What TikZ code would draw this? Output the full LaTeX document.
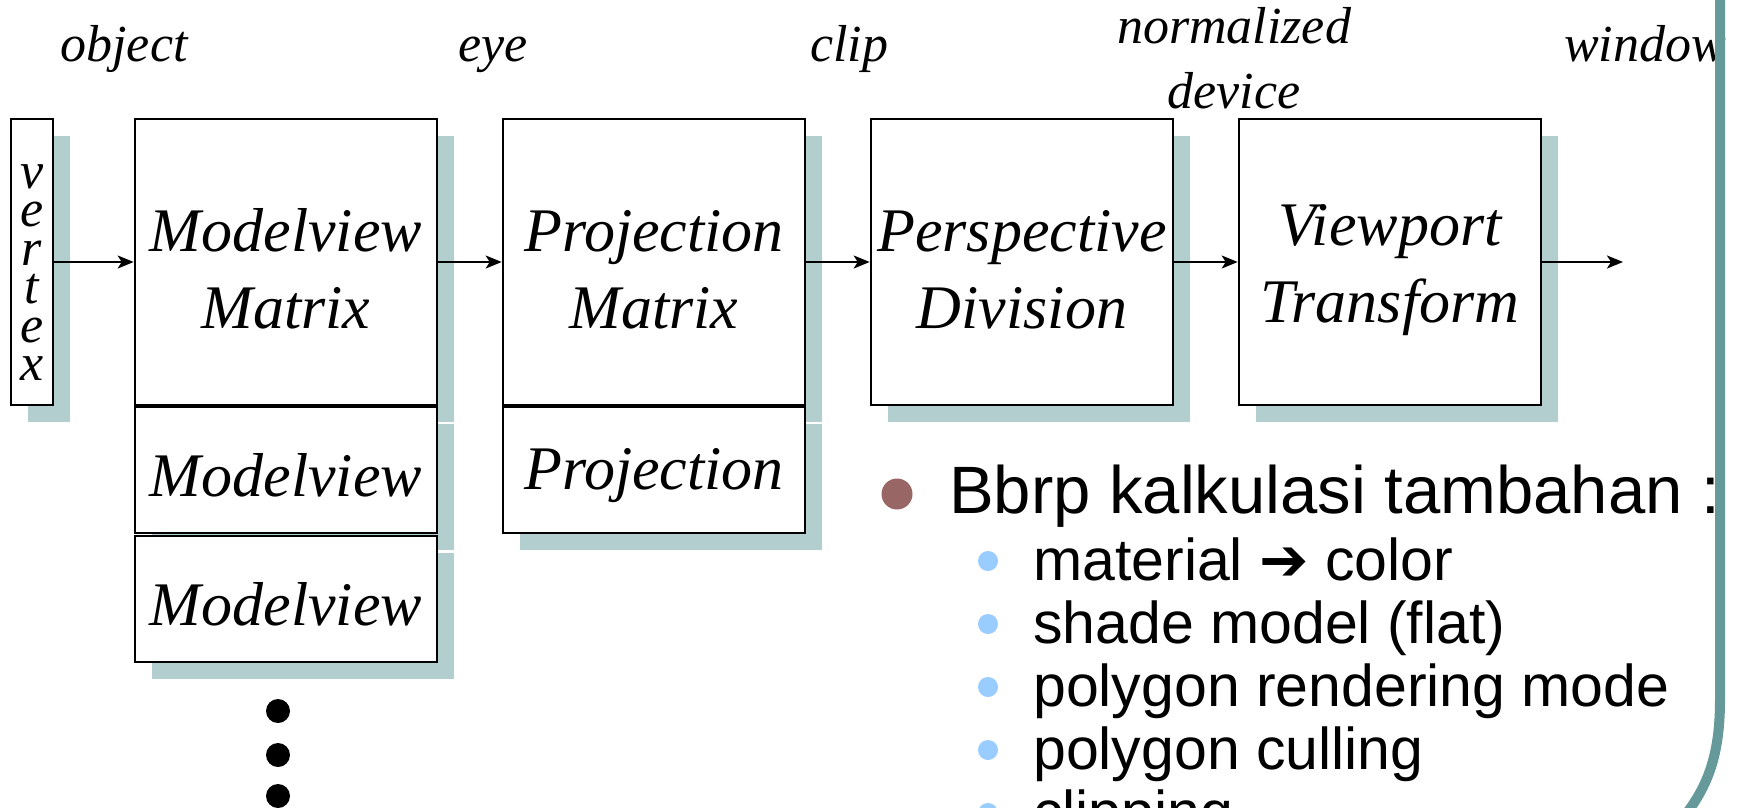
\documentclass[tikz,border=0pt]{standalone}
\usepackage{fontspec}
\setmainfont{Liberation Serif}
\setsansfont{Liberation Sans}
\newfontfamily\symfont{DejaVu Sans}
\usetikzlibrary{arrows.meta,shadows}
\definecolor{frameteal}{RGB}{102,153,153}
\definecolor{shadeteal}{RGB}{178,206,206}
\definecolor{dotbrown}{RGB}{153,102,102}
\definecolor{dotblue}{RGB}{153,204,255}

\begin{document}
\begin{tikzpicture}[x=1pt, y=-1pt,
	stage/.style={draw, line width=2.6pt, fill=white, inner sep=0pt, align=center,
		minimum width=302pt, minimum height=286pt,
		font=\itshape\fontsize{62}{77}\selectfont,
		drop shadow={shadow xshift=17pt, shadow yshift=-17pt, fill=shadeteal, opacity=1}},
	stackbox/.style={stage, minimum height=126pt, execute at begin node=\rule{0pt}{53pt}},
	spacelabel/.style={font=\itshape\fontsize{52}{63}\selectfont, anchor=base, inner sep=0pt},
	flow/.style={-{Stealth[length=16pt, width=13pt, inset=4pt]}, line width=2pt},
	subitem/.style={font=\sffamily\fontsize{59}{63}\selectfont, anchor=base west, inner sep=0pt}]
	\useasboundingbox (0,0) rectangle (1741,808);
	\clip (0,0) rectangle (1741,808);

	\node (obj) at (124,62) [spacelabel] {object};
	\node (eye) at (493,62) [spacelabel] {eye};
	\node (clp) at (849,62) [spacelabel] {clip};
	\node (ndca) at (1234,44) [spacelabel] {normalized};
	\node (ndcb) at (1234,109) [spacelabel] {device};
	\node (win) at (1645,62) [spacelabel] {window};

	\node (vtx) at (32,262) [stage, minimum width=42pt, font=\itshape\fontsize{52}{38.4}\selectfont]
		{\rule{0pt}{45pt}v\\e\\r\\t\\e\\x};
	\node (mvm) at (286,262) [stage] {\rule{0pt}{57pt}Modelview\\Matrix};
	\node (mva) at (286,470) [stackbox] {Modelview};
	\node (mvb) at (286,599) [stackbox] {Modelview};
	\node (pjm) at (654,262) [stage] {\rule{0pt}{57pt}Projection\\Matrix};
	\node (pja) at (654,470) [stackbox] {Projection};
	\node (pdv) at (1022,262) [stage] {\rule{0pt}{57pt}Perspective\\Division};
	\node (vpt) at (1390,262) [stage] {\rule{0pt}{57pt}Viewport\\Transform};
	\coordinate (out) at (1623,262);

	\draw[flow] (vtx) -- (mvm);
	\draw[flow] (mvm) -- (pjm);
	\draw[flow] (pjm) -- (pdv);
	\draw[flow] (pdv) -- (vpt);
	\draw[flow] (vpt) -- (out);

	\foreach \y in {711,755,796}
		\fill (278,\y) circle (12);

	\fill[dotbrown] (897,494) circle (15.5);
	\node (calc) at (949,513) [subitem, font=\sffamily\fontsize{67}{70}\selectfont] {Bbrp kalkulasi tambahan :};
	\foreach \txt [count=\i from 0] in {material {\symfont\char"2794} color, shade model (flat), polygon rendering mode, polygon culling, clipping} {
		\fill[dotblue] (988,561+63*\i) circle (10);
		\node (sub\i) at (1033,580+63*\i) [subitem] {\txt};
	}

	\draw[frameteal, line width=10pt] (1720,-10) -- (1720,700) .. controls (1720,760) and (1705,790) .. (1683,818);
\end{tikzpicture}
\end{document}
